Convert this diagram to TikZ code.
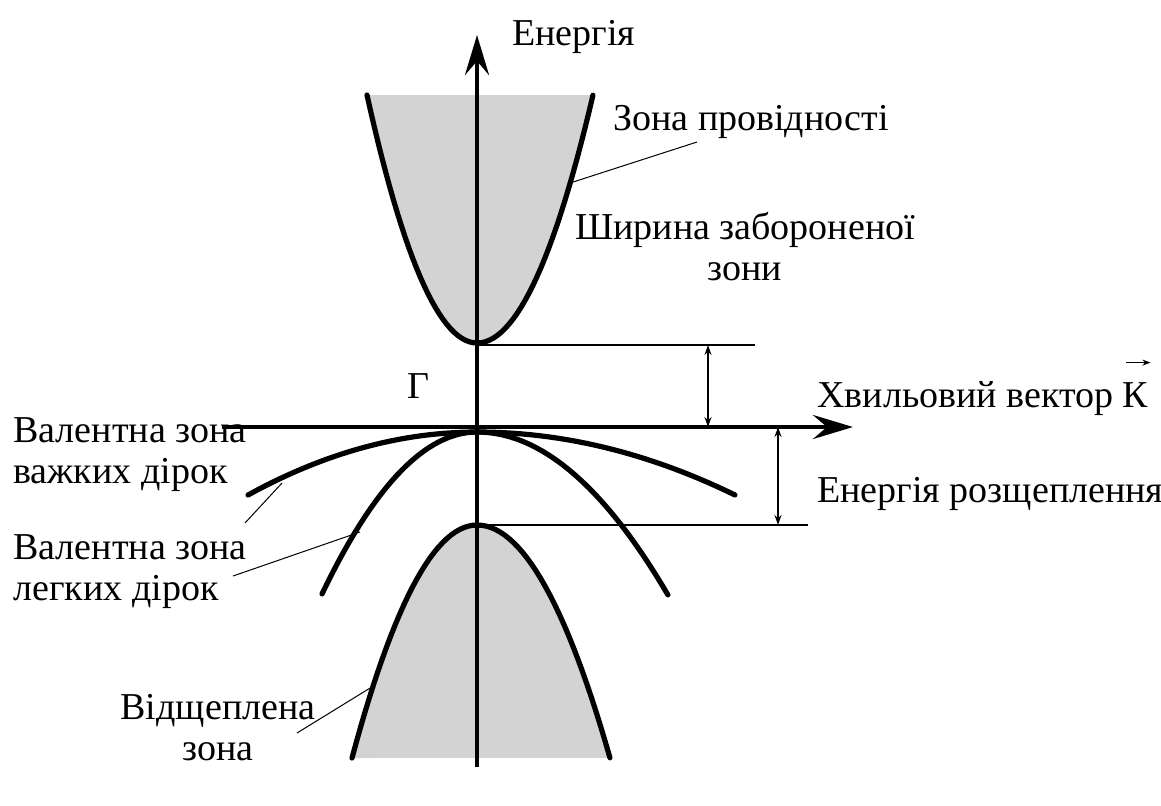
\documentclass[tikz,border=0pt]{standalone}
\usepackage{fontspec}
\setmainfont{LiberationSerif}[Extension=.ttf, UprightFont=*-Regular]
\usetikzlibrary{arrows.meta}
\definecolor{bandgray}{RGB}{211,211,211}

\begin{document}
\begin{tikzpicture}[x=0.5pt, y=-0.5pt,
        % Define styles for the axes, the bands and the labels
        axis/.style={line width=2.4pt, -{Stealth[length=20pt, width=12pt, inset=7pt]}},
        band/.style={line width=2.6pt, line cap=round},
        guide/.style={line width=0.7pt},
        leader/.style={line width=0.5pt},
        gap/.style={line width=0.6pt, {Stealth[length=5pt, width=3.5pt]}-{Stealth[length=5pt, width=3.5pt]}},
        lbl/.style={font=\fontsize{19}{20.5}\selectfont, inner sep=0pt}]

        \useasboundingbox (0,0) rectangle (1161,805);

        % 1. Fill the conduction band and the split-off band
        \fill[bandgray] plot[domain=-1:0, samples=30] ({477+110*\x},{343-248*\x*\x})
            -- plot[domain=0:1, samples=30] ({477+116*\x},{343-248*\x*\x}) -- cycle;
        \fill[bandgray] plot[domain=-1:0, samples=30] ({477+125*\x},{525+233*\x*\x})
            -- plot[domain=0:1, samples=30] ({477+133*\x},{525+233*\x*\x}) -- cycle;

        % 2. Define the coordinates for the axes and the gaps
        \coordinate (O) at (477,427); % Gamma point
        \coordinate (Ebot) at (477,767);
        \coordinate (Etop) at (477,35);
        \coordinate (Kleft) at (222,427);
        \coordinate (Kright) at (853,427);
        \coordinate (CBmin) at (477,345);
        \coordinate (CBline) at (755,345);
        \coordinate (SOmax) at (477,525);
        \coordinate (SOline) at (808,525);
        \coordinate (gapA) at (708,345);
        \coordinate (gapB) at (708,427);
        \coordinate (splitA) at (778,427);
        \coordinate (splitB) at (778,525);

        % 3. Draw the axes
        \draw[axis] (Ebot) -- (Etop);
        \draw[axis] (Kleft) -- (Kright);

        % 4. Draw the bands
        \draw[band] plot[domain=-1:0, samples=30] ({477+110*\x},{343-248*\x*\x})
            -- plot[domain=0:1, samples=30] ({477+116*\x},{343-248*\x*\x});
        \draw[band] plot[domain=-1:0, samples=30] ({477+125*\x},{525+233*\x*\x})
            -- plot[domain=0:1, samples=30] ({477+133*\x},{525+233*\x*\x});
        \draw[band] plot[domain=-1:0, samples=30] ({477+229*\x},{432+63*\x*\x})
            -- plot[domain=0:1, samples=30] ({477+258*\x},{432+63*\x*\x});
        \draw[band] plot[domain=-1:0, samples=30] ({477+155*\x},{432+162*\x*\x})
            -- plot[domain=0:1, samples=30] ({477+191*\x},{432+163*\x*\x});

        % 5. Mark the band gap and the splitting energy
        \draw[guide] (CBmin) -- (CBline);
        \draw[guide] (SOmax) -- (SOline);
        \draw[gap] (gapA) -- (gapB);
        \draw[gap] (splitA) -- (splitB);

        % 6. Place the labels
        \node[lbl, anchor=base west] (energy) at (512,45) {Енергія};
        \node[lbl, anchor=base west] (cbtext) at (613,130) {Зона провідності};
        \node[lbl, anchor=base, align=center] (gaptext) at (745,280) {Ширина забороненої\\зони};
        \node[lbl, anchor=base west] (gamma) at (407,398) {Г};
        \node[lbl, anchor=base west] (ktext) at (817,407) {Хвильовий вектор К};
        \node[lbl, anchor=base west] (splittext) at (817,502) {Енергія розщеплення};
        \node[lbl, anchor=base west, align=left] (hhtext) at (13,483) {Валентна зона\\важких дірок};
        \node[lbl, anchor=base west, align=left] (lhtext) at (13,600) {Валентна зона\\легких дірок};
        \node[lbl, anchor=base, align=center] (sotext) at (218,760) {Відщеплена\\зона};

        % The vector arrow over K
        \draw[line width=0.6pt, -{Stealth[length=4pt, width=3pt]}]
            ([xshift=-11pt, yshift=9pt]ktext.north east) -- ([xshift=1pt, yshift=9pt]ktext.north east);

        % 7. Leader lines from the bands to the labels
        \coordinate (CBpt) at (570,183);
        \coordinate (CBlbl) at (697,142);
        \coordinate (HHpt) at (282,483);
        \coordinate (HHlbl) at (245,523);
        \coordinate (LHpt) at (360,532);
        \coordinate (LHlbl) at (233,576);
        \coordinate (SOpt) at (375,685);
        \coordinate (SOlbl) at (297,733);
        \draw[leader] (CBpt) -- (CBlbl);
        \draw[leader] (HHpt) -- (HHlbl);
        \draw[leader] (LHpt) -- (LHlbl);
        \draw[leader] (SOpt) -- (SOlbl);
    \end{tikzpicture}
\end{document}
